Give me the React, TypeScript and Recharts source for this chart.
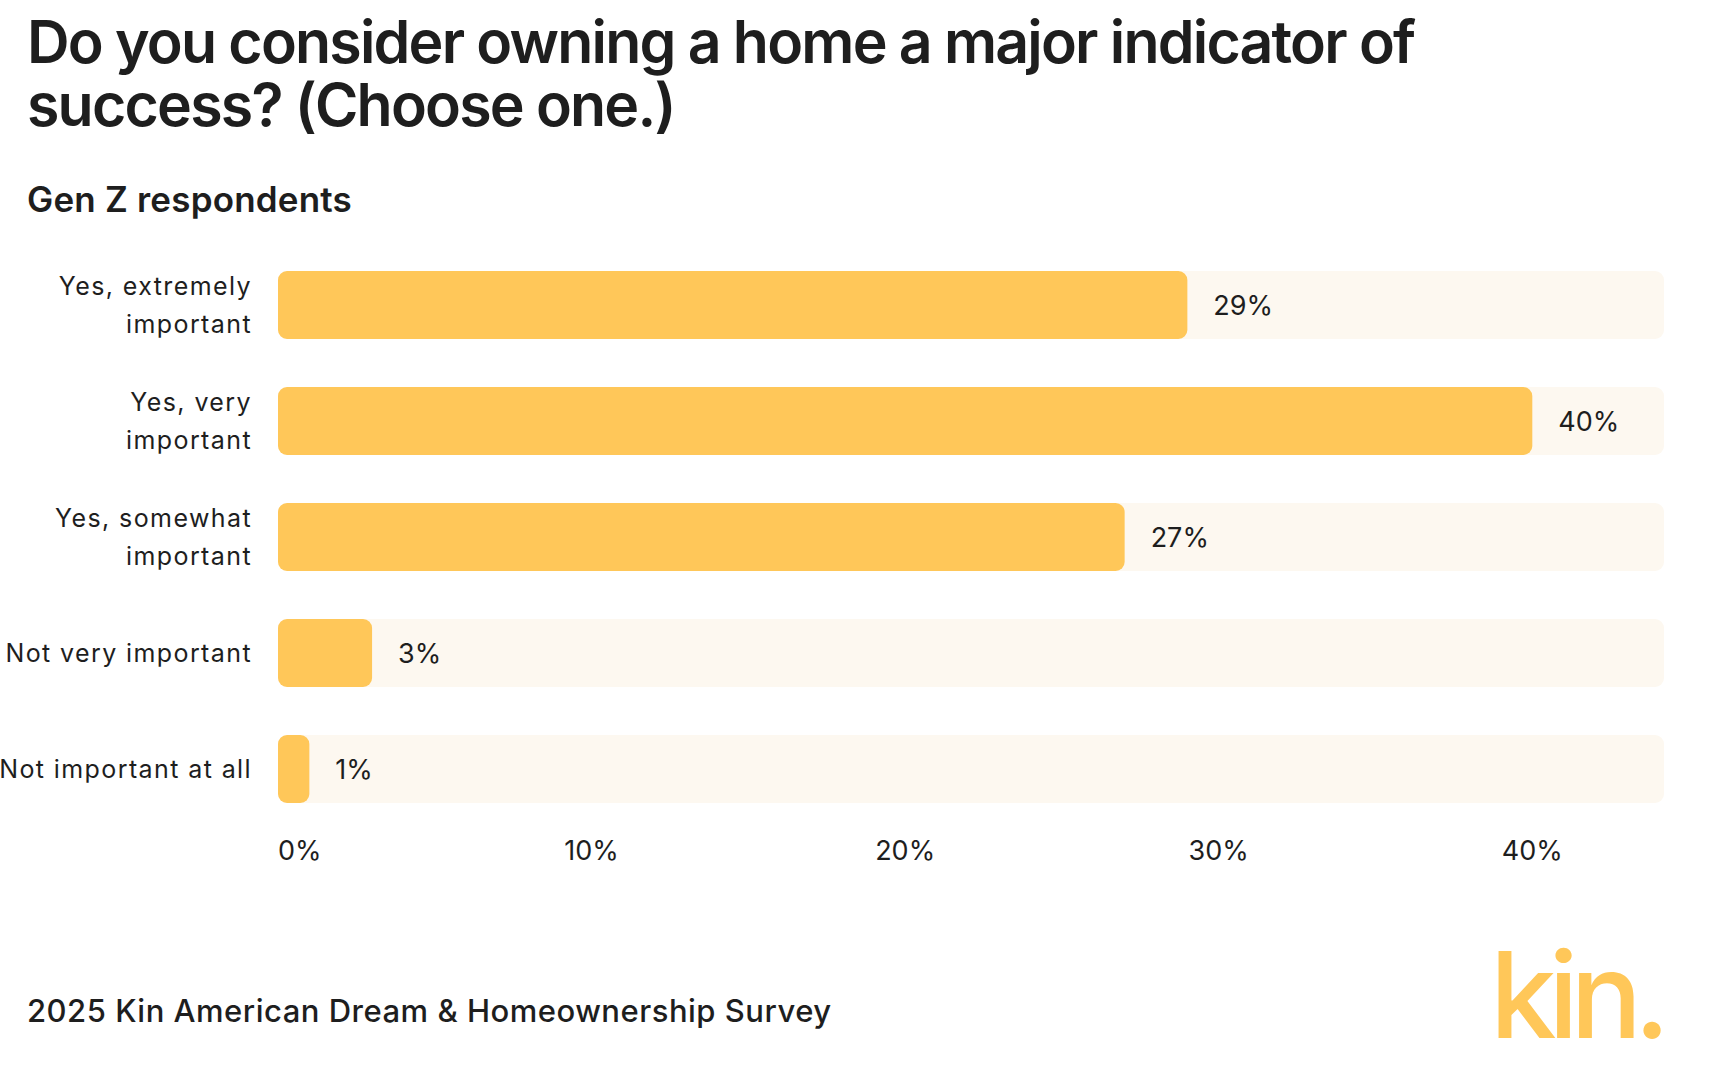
import { BarChart, Bar, XAxis, YAxis, LabelList } from "recharts";

const categories = [
  "Yes, extremely\nimportant",
  "Yes, very\nimportant",
  "Yes, somewhat\nimportant",
  "Not very important",
  "Not important at all",
];
const shares = [29, 40, 27, 3, 1];
const xTicks = [0, 10, 20, 30, 40];

const data = categories.map((c, i) => ({ category: c, share: shares[i] }));

const INK = "#1e1e1e";
const YELLOW = "#ffc759";
const TRACK = "#fdf8f0";

function CategoryTick(props: any) {
  const { x, y, payload } = props;
  const lines = String(payload.value).split("\n");
  const lh = 38.5;
  const start = -((lines.length - 1) * lh) / 2;
  return (
    <text x={x - 18} y={y} textAnchor="end" fill={INK} fontSize={25} fontFamily="Inter" letterSpacing={1.4}>
      {lines.map((l, i) => (
        <tspan key={i} x={x - 18} y={y + start + i * lh} dominantBaseline="central">
          {l}
        </tspan>
      ))}
    </text>
  );
}

function PctTick(props: any) {
  const { x, y, payload } = props;
  const anchor = payload.value === 0 ? "start" : "middle";
  return (
    <text x={x} y={y + 15} textAnchor={anchor} dominantBaseline="central" fill={INK} fontSize={27} fontFamily="Inter">
      {payload.value}%
    </text>
  );
}

const titleLine = {
  position: "absolute" as const,
  left: 27,
  fontSize: 59,
  fontWeight: 600,
  lineHeight: "62px",
  height: 62,
  letterSpacing: -1.8,
  whiteSpace: "nowrap" as const,
};

export default function App() {
  return (
    <div style={{ position: "absolute", left: 0, top: 0, width: 1728, height: 1077, background: "#fff", fontFamily: "Inter", color: INK }}>
      <div style={{ ...titleLine, top: 11 }}>Do you consider owning a home a major indicator of</div>
      <div style={{ ...titleLine, top: 74 }}>success? (Choose one.)</div>
      <div style={{ position: "absolute", left: 27, top: 178, fontSize: 35, fontWeight: 600, letterSpacing: 0.2 }}>
        Gen Z respondents
      </div>

      <div style={{ position: "absolute", left: 0, top: 230 }}>
        <BarChart
          width={1728}
          height={657}
          data={data}
          layout="vertical"
          margin={{ top: 17, right: 64, bottom: 0, left: 0 }}
          barSize={68}
        >
          <XAxis
            type="number"
            domain={[0, 44.2]}
            ticks={xTicks}
            axisLine={false}
            tickLine={false}
            tick={<PctTick />}
            height={60}
            interval={0}
          />
          <YAxis
            type="category"
            dataKey="category"
            width={278}
            axisLine={false}
            tickLine={false}
            tick={<CategoryTick />}
            interval={0}
          />
          <Bar
            dataKey="share"
            fill={YELLOW}
            radius={9}
            background={{ fill: TRACK, radius: 9 } as any}
            isAnimationActive={false}
          >
            <LabelList
              dataKey="share"
              position="right"
              offset={26}
              formatter={(v: any) => `${v}%`}
              fill={INK}
              fontSize={27}
              fontFamily="Inter"
            />
          </Bar>
        </BarChart>
      </div>

      <div style={{ position: "absolute", left: 27, top: 992, fontSize: 31, fontWeight: 500, letterSpacing: 0.5 }}>
        2025 Kin American Dream &amp; Homeownership Survey
      </div>
      <div style={{ position: "absolute", left: 1490, top: 936, fontSize: 119, fontWeight: 500, color: YELLOW, letterSpacing: -8, lineHeight: "119px" }}>
        kin.
      </div>
    </div>
  );
}
